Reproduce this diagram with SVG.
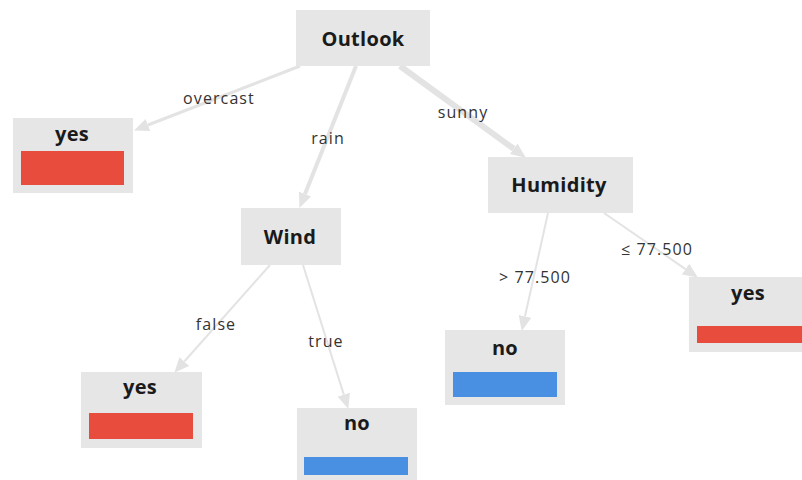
<svg xmlns="http://www.w3.org/2000/svg" width="802" height="480" viewBox="0 0 802 480">
<defs>
<marker id="arr" markerUnits="userSpaceOnUse" markerWidth="15" markerHeight="13" refX="0" refY="6.5" orient="auto" viewBox="0 0 15 13">
<path d="M0,0 L15,6.5 L0,13 z" fill="#e3e3e3"/>
</marker>
<style>
.box{fill:#e6e6e6}
.lbl{font-family:"Open Sans","Noto Sans","DejaVu Sans",sans-serif;font-weight:bold;font-size:20px;letter-spacing:0.3px;fill:#1a1a1a;text-anchor:middle}
.elbl{font-family:"Open Sans","Noto Sans","DejaVu Sans",sans-serif;font-size:16px;letter-spacing:1.1px;fill:#333;text-anchor:middle}
.edge{stroke:#e3e3e3;fill:none;marker-end:url(#arr)}
.red{fill:#e84c3d}
.blue{fill:#4a90e2}
</style>
</defs>
<rect width="802" height="480" fill="#fff"/>
<g id="connectors">
<line class="edge" x1="300" y1="66" x2="148" y2="125" stroke-width="3"/>
<line class="edge" x1="356" y1="66" x2="305" y2="194" stroke-width="4"/>
<line class="edge" x1="400" y1="66" x2="513.7" y2="148.8" stroke-width="6"/>
<line class="edge" x1="548" y1="213" x2="525" y2="316.3" stroke-width="2"/>
<line class="edge" x1="604" y1="213" x2="685.5" y2="269.1" stroke-width="2"/>
<line class="edge" x1="270" y1="265" x2="184.3" y2="361.5" stroke-width="2"/>
<line class="edge" x1="303" y1="265" x2="343.8" y2="394.6" stroke-width="2"/>
<text class="elbl" x="219" y="104">overcast</text>
<text class="elbl" x="328" y="144">rain</text>
<text class="elbl" x="463" y="118">sunny</text>
<text class="elbl" x="535" y="283">&gt; 77.500</text>
<text class="elbl" x="657" y="255">≤ 77.500</text>
<text class="elbl" x="216" y="330">false</text>
<text class="elbl" x="326" y="347">true</text>
</g>
<g id="outlook">
<rect class="box" x="296" y="10" width="134" height="56"/>
<text class="lbl" x="363" y="46">Outlook</text>
</g>
<g id="yes1">
<rect class="box" x="13" y="118" width="120" height="75"/>
<text class="lbl" x="72" y="141">yes</text>
<rect class="red" x="21" y="151" width="103" height="34"/>
</g>
<g id="wind">
<rect class="box" x="241" y="208" width="100" height="57"/>
<text class="lbl" x="290" y="244">Wind</text>
</g>
<g id="humidity">
<rect class="box" x="488" y="157" width="145" height="56"/>
<text class="lbl" x="559" y="192">Humidity</text>
</g>
<g id="yes2">
<rect class="box" x="81" y="372" width="121" height="76"/>
<text class="lbl" x="140" y="394">yes</text>
<rect class="red" x="89" y="413" width="104" height="26"/>
</g>
<g id="no1">
<rect class="box" x="297" y="408" width="120" height="72"/>
<text class="lbl" x="357" y="430">no</text>
<rect class="blue" x="304" y="457" width="104" height="18"/>
</g>
<g id="no2">
<rect class="box" x="445" y="330" width="120" height="75"/>
<text class="lbl" x="505" y="355">no</text>
<rect class="blue" x="453" y="372" width="104" height="25"/>
</g>
<g id="yes3">
<rect class="box" x="689" y="277" width="113" height="75"/>
<text class="lbl" x="748" y="300">yes</text>
<rect class="red" x="697" y="326" width="105" height="17"/>
</g>
</svg>
